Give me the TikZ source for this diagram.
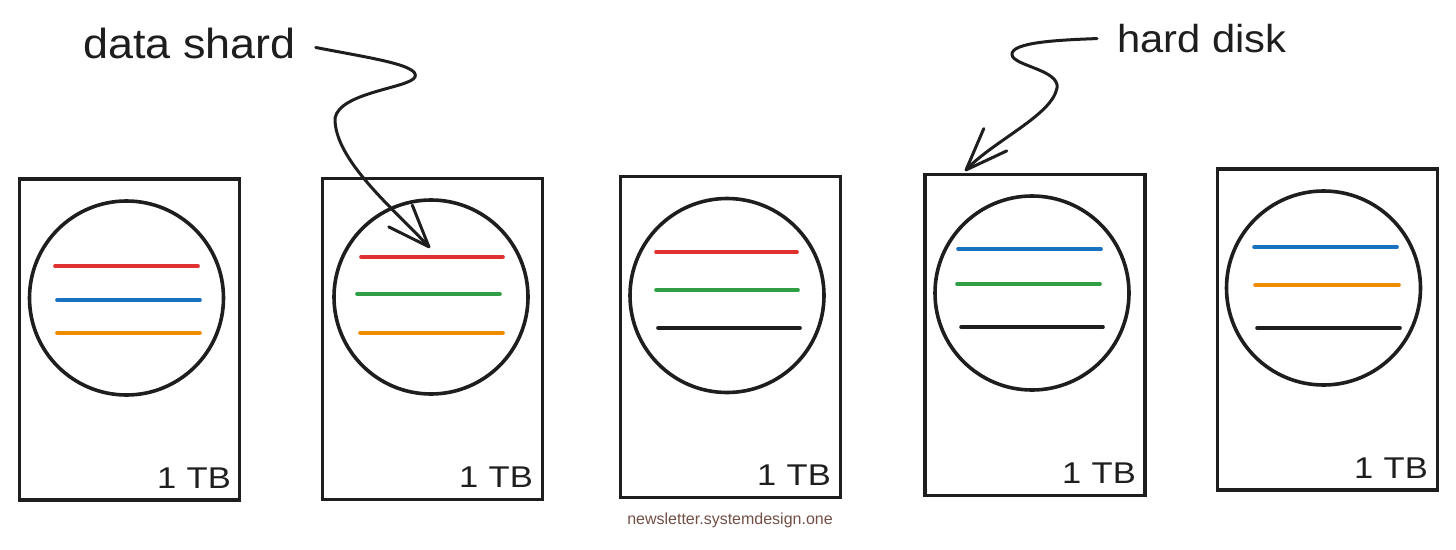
\documentclass[tikz,border=0pt]{standalone}
\usepackage{fontspec}
\setmainfont{Liberation Sans}
\usetikzlibrary{arrows.meta}
\definecolor{shred}{HTML}{E03131}
\definecolor{shblue}{HTML}{1971C2}
\definecolor{shgreen}{HTML}{2F9E44}
\definecolor{shorange}{HTML}{F08C00}
\definecolor{shblack}{HTML}{1E1E1E}
\definecolor{wmbrown}{RGB}{115,80,70}
\begin{document}
\begin{tikzpicture}[x=1pt,y=-1pt,
  disk/.style={draw=shblack, line width=3.6pt, minimum width=220pt, minimum height=321pt, inner sep=0pt},
  platter/.style={draw=shblack, line width=3.6pt, circle, minimum size=194pt, inner sep=0pt},
  shardline/.style={line width=3.6pt, line cap=round},
  capacity/.style={font=\fontsize{30}{34}\selectfont, anchor=base east, inner sep=0pt, text=shblack},
  annotlabel/.style={font=\fontsize{42}{50}\selectfont, inner sep=0pt, text=shblack},
  annot/.style={draw=shblack, line width=3pt, line cap=round, line join=round,
    -{Straight Barb[length=42pt,width=32pt,round]}},
]
\fill[white] (0,0) rectangle (1456,549);
\useasboundingbox (0,0) rectangle (1456,549);

% disks
\node[disk] (d1) at (129.5,339.5) {};
\node[disk] (d2) at (432.5,339) {};
\node[disk] (d3) at (730.5,337) {};
\node[disk] (d4) at (1035,335) {};
\node[disk] (d5) at (1327.5,329.5) {};

% platters
\node[platter] (p1) at (126.5,298) {};
\node[platter] (p2) at (431,297) {};
\node[platter] (p3) at (727,295.5) {};
\node[platter] (p4) at (1032,293) {};
\node[platter] (p5) at (1323.5,288) {};

% shards disk 1
\draw[shardline, shred]    (55,266) -- (198,266);
\draw[shardline, shblue]   (57,300) -- (200,300);
\draw[shardline, shorange] (57,333) -- (200,333);
% shards disk 2
\draw[shardline, shred]    (361,257) -- (503,257);
\draw[shardline, shgreen]  (357,294) -- (500,294);
\draw[shardline, shorange] (360,333) -- (503,333);
% shards disk 3
\draw[shardline, shred]    (656,252) -- (797,252);
\draw[shardline, shgreen]  (656,290) -- (798,290);
\draw[shardline, shblack]  (658,328) -- (800,328);
% shards disk 4
\draw[shardline, shblue]   (958,249) -- (1101,249);
\draw[shardline, shgreen]  (957,284) -- (1100,284);
\draw[shardline, shblack]  (961,327) -- (1103,327);
% shards disk 5
\draw[shardline, shblue]   (1254,247) -- (1397,247);
\draw[shardline, shorange] (1255,285) -- (1399,285);
\draw[shardline, shblack]  (1257,328) -- (1400,328);

% capacities
\node[capacity] (c1) at (231,488) {\scalebox{1.15}[1]{1\hspace{0.3em}TB}};
\node[capacity] (c2) at (533,487) {\scalebox{1.15}[1]{1\hspace{0.3em}TB}};
\node[capacity] (c3) at (831,485) {\scalebox{1.15}[1]{1\hspace{0.3em}TB}};
\node[capacity] (c4) at (1136,483) {\scalebox{1.15}[1]{1\hspace{0.3em}TB}};
\node[capacity] (c5) at (1428,478) {\scalebox{1.15}[1]{1\hspace{0.3em}TB}};

% labels
\node[annotlabel, anchor=base west] (ds) at (83,58.5) {\scalebox{1.07}[1]{data shard}};
\node[annotlabel, anchor=base west, font=\fontsize{39}{46}\selectfont] (hd) at (1117,52.5) {\scalebox{1.07}[1]{hard disk}};

\coordinate (t1) at (430,248);
\coordinate (t2) at (965,171);

\draw[annot] ([xshift=20pt,yshift=-4pt]ds.east)
  .. controls (370,58) and (420,65) .. (415,77)
  .. controls (410,88) and (340,92) .. (335,118)
  .. controls (334,160) and (395,210) .. (t1);

\draw[annot] ([xshift=-20pt]hd.west)
  .. controls (1060,40) and (1010,42) .. (1012,55)
  .. controls (1014,66) and (1060,70) .. (1057,88)
  .. controls (1052,115) and (995,140) .. (t2);

% watermark
\node[font=\fontsize{16}{18}\selectfont, text=wmbrown, inner sep=0pt] (wm) at (730,520) {newsletter.systemdesign.one};
\end{tikzpicture}
\end{document}
